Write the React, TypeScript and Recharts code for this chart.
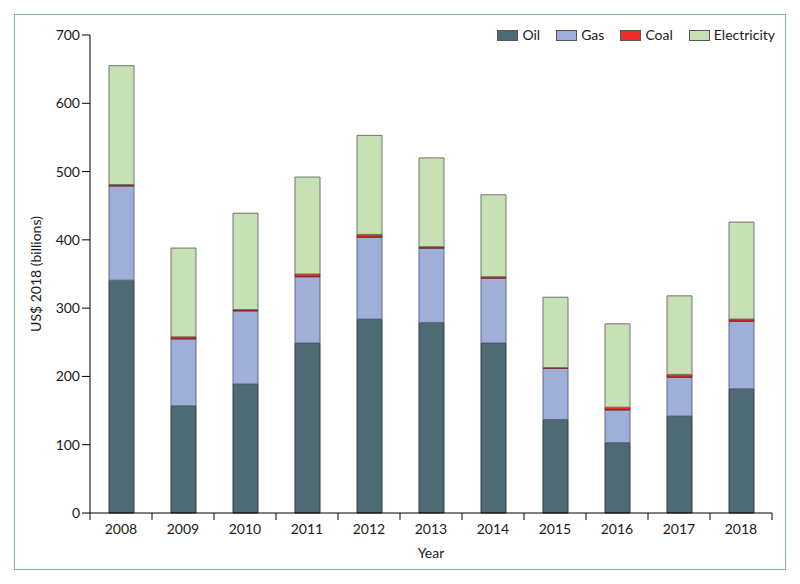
import React from 'react';
import { BarChart, Bar, XAxis, YAxis, Label } from 'recharts';

const years = ['2008', '2009', '2010', '2011', '2012', '2013', '2014', '2015', '2016', '2017', '2018'];
const oil = [341, 157, 189, 249, 284, 279, 249, 137, 103, 142, 182];
const gas = [138, 98, 107, 97, 120, 109, 95, 75, 48, 57, 99];
const coal = [2, 3, 2, 4, 4, 2, 2, 1, 4, 4, 3];
const electricity = [174, 130, 141, 142, 145, 130, 120, 103, 122, 115, 142];
const yTicks = [0, 100, 200, 300, 400, 500, 600, 700];

const data = years.map((year, i) => ({
  year,
  oil: oil[i],
  gas: gas[i],
  coal: coal[i],
  electricity: electricity[i],
}));

const series = [
  { key: 'oil', name: 'Oil', fill: '#4e6a73', stroke: '#2e3d42' },
  { key: 'gas', name: 'Gas', fill: '#9fafd7', stroke: '#5f6b8c' },
  { key: 'coal', name: 'Coal', fill: '#ee2b24', stroke: '#7a1a14' },
  { key: 'electricity', name: 'Electricity', fill: '#c8e1b4', stroke: '#6f756b' },
];

const CHART_W = 800;
const CHART_H = 584;
const MARGIN = { top: 35, right: 28, bottom: 21, left: 0 };
const Y_AXIS_W = 90;
const HALF_BAND = (CHART_W - MARGIN.right - MARGIN.left - Y_AXIS_W) / years.length / 2;

// x ticks sit between the categories, labels in the middle
const YearTick = ({ x, y, payload, index }: any) => {
  const axisY = y - 7;
  return (
    <g>
      <line x1={x - HALF_BAND} y1={axisY} x2={x - HALF_BAND} y2={axisY + 7} stroke="#000" />
      {index === years.length - 1 && (
        <line x1={x + HALF_BAND} y1={axisY} x2={x + HALF_BAND} y2={axisY + 7} stroke="#000" />
      )}
      <text x={x} y={axisY + 21} textAnchor="middle" fill="#1a1a1a" fontSize={14}>
        {payload.value}
      </text>
    </g>
  );
};

// legend kept outside the chart so it takes no room from the plot
const ChartLegend = () => (
  <div
    style={{
      position: 'absolute',
      top: 26,
      right: 25,
      display: 'flex',
      fontSize: 14,
      lineHeight: '18px',
      color: '#1a1a1a',
    }}
  >
    {series.map((s) => (
      <div key={s.key} style={{ display: 'flex', alignItems: 'center', marginLeft: 16 }}>
        <span
          style={{
            display: 'inline-block',
            width: 19,
            height: 9,
            background: s.fill,
            border: '1px solid #555',
            marginRight: 4,
          }}
        />
        <span>{s.name}</span>
      </div>
    ))}
  </div>
);

const App: React.FC = () => {
  return (
    <div
      style={{
        position: 'absolute',
        left: 0,
        top: 0,
        width: CHART_W,
        height: CHART_H,
        background: '#fff',
        fontFamily: 'Lato, "Open Sans", sans-serif',
      }}
    >
      <div
        style={{
          position: 'absolute',
          left: 14,
          top: 14,
          width: 772,
          height: 556,
          boxSizing: 'border-box',
          border: '1.5px solid #7ab897',
          pointerEvents: 'none',
        }}
      />
      <BarChart width={CHART_W} height={CHART_H} data={data} margin={MARGIN} barSize={25}>
        <XAxis
          dataKey="year"
          height={50}
          tickLine={false}
          tickSize={7}
          tickMargin={0}
          axisLine={{ stroke: '#000' }}
          tick={<YearTick />}
          interval={0}
        >
          <Label
            content={({ viewBox }: any) => (
              <text x={viewBox.x + viewBox.width / 2} y={viewBox.y + 45} textAnchor="middle" fontSize={14} fill="#1a1a1a">
                Year
              </text>
            )}
          />
        </XAxis>
        <YAxis
          width={Y_AXIS_W}
          domain={[0, 700]}
          ticks={yTicks}
          interval={0}
          tickSize={8}
          tickMargin={2}
          axisLine={{ stroke: '#000' }}
          tickLine={{ stroke: '#000' }}
          tick={{ fill: '#1a1a1a', fontSize: 14 }}
        >
          <Label
            content={({ viewBox }: any) => {
              const cx = 35;
              const cy = viewBox.y + viewBox.height / 2;
              return (
                <text x={cx} y={cy} transform={`rotate(-90 ${cx} ${cy})`} textAnchor="middle" dominantBaseline="central" fontSize={14} fill="#1a1a1a">
                  US$ 2018 (billions)
                </text>
              );
            }}
          />
        </YAxis>
        {series.map((s) => (
          <Bar
            key={s.key}
            dataKey={s.key}
            name={s.name}
            stackId="energy"
            fill={s.fill}
            stroke={s.stroke}
            strokeWidth={1}
            isAnimationActive={false}
          />
        ))}
      </BarChart>
      <ChartLegend />
    </div>
  );
};

export default App;
